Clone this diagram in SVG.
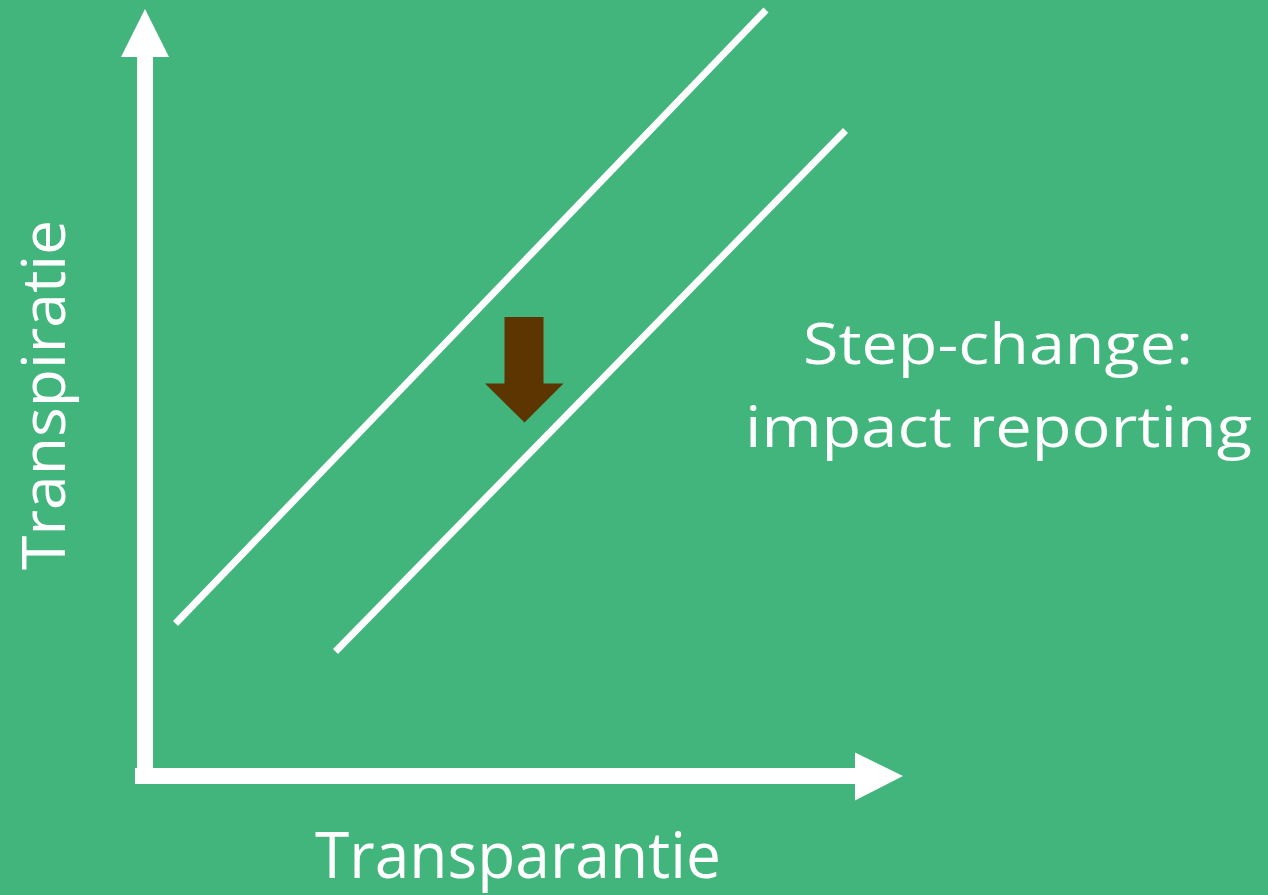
<svg xmlns="http://www.w3.org/2000/svg" width="1268" height="895" viewBox="0 0 1268 895">
  <style>
    .lbl { font-family: "Open Sans", "Noto Sans", "Liberation Sans", sans-serif; fill: #ffffff; }
    .axis { fill: #ffffff; }
    .trend { stroke: #ffffff; stroke-width: 7; fill: none; stroke-linecap: butt; }
  </style>
  <rect x="0" y="0" width="1268" height="895" fill="#41B57B"/>
  <g id="axes">
    <rect class="axis" x="137" y="55" width="16" height="729"/>
    <polygon class="axis" points="145,9 169,57 121,57"/>
    <rect class="axis" x="135" y="768" width="722" height="16"/>
    <polygon class="axis" points="903,776 855,752.5 855,800.5"/>
  </g>
  <g id="connectors">
    <line class="trend" x1="175.5" y1="623.5" x2="766" y2="10"/>
    <line class="trend" x1="335.5" y1="651.5" x2="845.5" y2="130.5"/>
  </g>
  <g id="shift-arrow">
    <polygon fill="#5C3500" points="504.5,317 543.5,317 543.5,383.5 563.5,383.5 524.5,422.5 485,383.5 504.5,383.5"/>
  </g>
  <g id="label-y">
    <text class="lbl" transform="translate(65,570) rotate(-90)" font-size="60" textLength="350" lengthAdjust="spacingAndGlyphs">Transpiratie</text>
  </g>
  <g id="label-x">
    <text class="lbl" x="315" y="878" font-size="64" textLength="406" lengthAdjust="spacingAndGlyphs">Transparantie</text>
  </g>
  <g id="label-step">
    <text class="lbl" x="803" y="364" font-size="57" textLength="390" lengthAdjust="spacingAndGlyphs">Step-change:</text>
    <text class="lbl" x="745" y="447" font-size="57" textLength="507" lengthAdjust="spacingAndGlyphs">impact reporting</text>
  </g>
</svg>
